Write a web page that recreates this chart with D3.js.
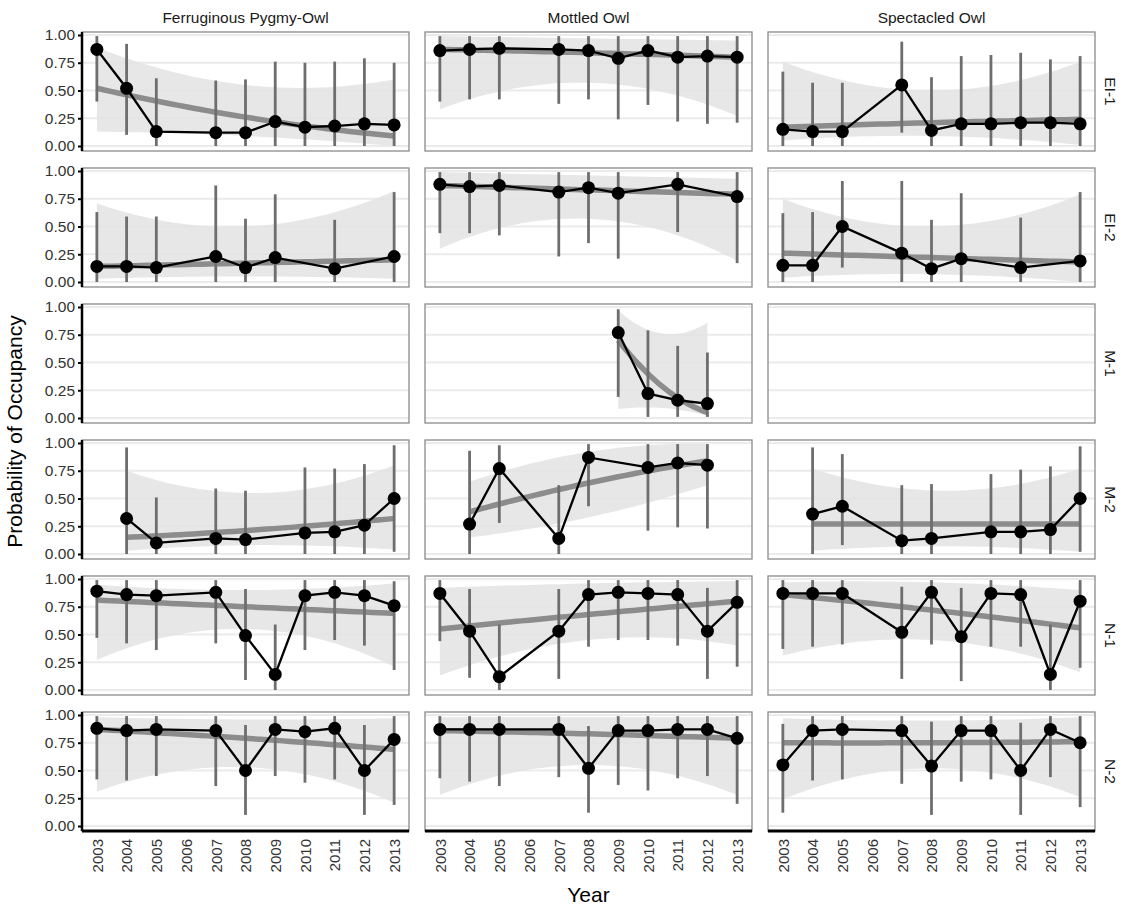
<!DOCTYPE html>
<html><head><meta charset="utf-8">
<script src="https://cdn.jsdelivr.net/npm/d3@7"></script>
<style>body{margin:0;background:#fff}text{font-family:"Liberation Sans",Arial,sans-serif}</style>
</head><body><div id="chart"></div>
<script>
// facets
const species = ['Ferruginous Pygmy-Owl', 'Mottled Owl', 'Spectacled Owl'];
const sites = ['EI-1', 'EI-2', 'M-1', 'M-2', 'N-1', 'N-2'];
const yearTicks = [2003, 2004, 2005, 2006, 2007, 2008, 2009, 2010, 2011, 2012, 2013];
const yTicks = [0, 0.25, 0.5, 0.75, 1];

const yrsA = [2003, 2004, 2005, 2007, 2008, 2009, 2010, 2011, 2012, 2013];
const yrsB = [2003, 2004, 2005, 2007, 2008, 2009, 2011, 2013];
const yrsM1 = [2009, 2010, 2011, 2012];
const yrsM2a = [2004, 2005, 2007, 2008, 2010, 2011, 2012, 2013];
const yrsM2b = [2004, 2005, 2007, 2008, 2010, 2011, 2012];
const hi99a = [0.99, 0.99, 0.99, 0.99, 0.99, 0.99, 0.99, 0.99, 0.99, 0.99];

// each panel: years, estimate, lower, upper, trend (start/mid/end), band low/high (start/mid/end)
const panels = {
  'EI-1|Ferruginous Pygmy-Owl': {years: yrsA, p: [.87,.52,.13,.12,.12,.22,.17,.18,.20,.19], lo: [.40,.10,0,0,0,0,0,0,0,0], hi: [.99,.92,.61,.59,.60,.76,.75,.76,.79,.75], trend: [.52,.26,.09], bandLo: [.13,.09,0], bandHi: [.89,.55,.60]},
  'EI-1|Mottled Owl': {years: yrsA, p: [.86,.87,.88,.87,.86,.79,.86,.80,.81,.80], lo: [.40,.42,.42,.38,.42,.24,.37,.22,.20,.21], hi: hi99a, trend: [.87,.84,.80], bandLo: [.33,.57,.27], bandHi: [.99,.97,.95]},
  'EI-1|Spectacled Owl': {years: yrsA, p: [.15,.13,.13,.55,.14,.20,.20,.21,.21,.20], lo: [0,0,0,.12,0,0,0,0,0,0], hi: [.67,.57,.57,.94,.62,.81,.82,.84,.78,.81], trend: [.17,.21,.24], bandLo: [.05,.09,.01], bandHi: [.76,.50,.76]},
  'EI-2|Ferruginous Pygmy-Owl': {years: yrsB, p: [.14,.14,.13,.23,.13,.22,.12,.23], lo: [0,0,0,0,0,0,0,0], hi: [.63,.59,.59,.87,.57,.79,.56,.81], trend: [.14,.17,.20], bandLo: [.03,.05,.03], bandHi: [.71,.50,.82]},
  'EI-2|Mottled Owl': {years: yrsB, p: [.88,.86,.87,.81,.85,.80,.88,.77], lo: [.44,.44,.42,.23,.35,.21,.45,.17], hi: [.99,.99,.99,.99,.99,.99,.99,.99], trend: [.87,.83,.79], bandLo: [.30,.57,.19], bandHi: [.99,.96,.93]},
  'EI-2|Spectacled Owl': {years: yrsB, p: [.15,.15,.50,.26,.12,.21,.13,.19], lo: [0,0,.13,0,0,0,0,0], hi: [.62,.63,.91,.91,.56,.80,.58,.81], trend: [.26,.22,.18], bandLo: [.04,.07,0], bandHi: [.75,.50,.79]},
  'M-1|Mottled Owl': {years: yrsM1, p: [.77,.22,.16,.13], lo: [.19,.01,.01,.01], hi: [.98,.79,.65,.59], trend: [.70,.28,.05], bandLo: [.08,.09,.02], bandHi: [.97,.76,.86]},
  'M-2|Ferruginous Pygmy-Owl': {years: yrsM2a, p: [.32,.10,.14,.13,.19,.20,.26,.50], lo: [0,0,0,0,0,0,0,.02], hi: [.96,.51,.59,.57,.78,.77,.81,.98], trend: [.15,.22,.32], bandLo: [.03,.08,.04], bandHi: [.75,.55,.80]},
  'M-2|Mottled Owl': {years: yrsM2b, p: [.27,.77,.14,.87,.78,.82,.80], lo: [0,.28,0,.43,.21,.24,.23], hi: [.93,.98,.62,.99,.99,.99,.99], trend: [.38,.64,.84], bandLo: [.15,.33,.62], bandHi: [.65,.92,.99]},
  'M-2|Spectacled Owl': {years: yrsM2a, p: [.36,.43,.12,.14,.20,.20,.22,.50], lo: [0,.08,0,0,0,0,0,.02], hi: [.96,.90,.62,.63,.72,.76,.79,.97], trend: [.27,.27,.27], bandLo: [.03,.07,.02], bandHi: [.77,.57,.77]},
  'N-1|Ferruginous Pygmy-Owl': {years: yrsA, p: [.89,.86,.85,.88,.49,.14,.85,.88,.85,.76], lo: [.47,.42,.36,.42,.09,0,.36,.45,.40,.18], hi: [.99,.99,.99,.99,.91,.59,.99,.99,.99,.98], trend: [.81,.75,.69], bandLo: [.27,.55,.21], bandHi: [.95,.90,.96]},
  'N-1|Mottled Owl': {years: yrsA, p: [.87,.53,.12,.53,.86,.88,.87,.86,.53,.79], lo: [.44,.11,0,.10,.39,.45,.45,.40,.10,.21], hi: [.99,.91,.59,.91,.99,.99,.99,.99,.92,.99], trend: [.55,.68,.80], bandLo: [.13,.45,.40], bandHi: [.92,.96,.98]},
  'N-1|Spectacled Owl': {years: yrsA, p: [.87,.87,.87,.52,.88,.48,.87,.86,.14,.80], lo: [.37,.39,.41,.10,.41,.08,.39,.39,0,.20], hi: [.99,.99,.99,.93,.99,.92,.99,.99,.59,.99], trend: [.86,.72,.56], bandLo: [.31,.45,.16], bandHi: [.97,.97,.90]},
  'N-2|Ferruginous Pygmy-Owl': {years: yrsA, p: [.88,.86,.87,.86,.50,.87,.85,.88,.50,.78], lo: [.42,.41,.45,.36,.10,.45,.39,.42,.10,.19], hi: [.99,.99,.99,.99,.91,.99,.99,.99,.91,.99], trend: [.87,.79,.69], bandLo: [.31,.53,.21], bandHi: [.98,.96,.97]},
  'N-2|Mottled Owl': {years: yrsA, p: [.87,.87,.87,.87,.52,.86,.86,.87,.87,.79], lo: [.43,.40,.36,.44,.12,.37,.32,.43,.45,.20], hi: [.99,.99,.99,.99,.90,.99,.99,.99,.99,.99], trend: [.86,.83,.79], bandLo: [.28,.55,.28], bandHi: [.98,.98,.98]},
  'N-2|Spectacled Owl': {years: yrsA, p: [.55,.86,.87,.86,.54,.86,.86,.50,.87,.75], lo: [.12,.41,.42,.38,.10,.40,.42,.10,.44,.17], hi: [.92,.99,.99,.99,.94,.99,.99,.93,.99,.99], trend: [.75,.75,.76], bandLo: [.24,.52,.26], bandHi: [.97,.95,.98]}
};

const W = 1126, H = 910;
const colX = [82, 425, 768], panelW = 327;
const rowY = [32, 168, 304, 440, 576, 712], panelH = 119;

const svg = d3.select('#chart').append('svg').attr('width', W).attr('height', H);

const x = d3.scaleLinear().domain([2002.5, 2013.5]).range([0, panelW]);
const y = d3.scaleLinear().domain([-0.045, 1.027]).range([panelH, 0]);

// quadratic through the three knots (Lagrange)
function quad(knots, vals) {
  const [a, b, c] = knots;
  return t => vals[0] * (t - b) * (t - c) / ((a - b) * (a - c)) +
              vals[1] * (t - a) * (t - c) / ((b - a) * (b - c)) +
              vals[2] * (t - a) * (t - b) / ((c - a) * (c - b));
}

sites.forEach((site, r) => {
  species.forEach((sp, c) => {
    const g = svg.append('g').attr('transform', `translate(${colX[c]},${rowY[r]})`);
    g.selectAll('.grid').data(yTicks).enter().append('line')
      .attr('x1', 0).attr('x2', panelW)
      .attr('y1', d => y(d)).attr('y2', d => y(d))
      .attr('stroke', '#ebebeb').attr('stroke-width', 2.2);

    const d = panels[site + '|' + sp];
    if (d) {
      const y0 = d.years[0], y1 = d.years[d.years.length - 1];
      const knots = [y0, (y0 + y1) / 2, y1];
      const fine = d3.range(0, 41).map(i => y0 + (y1 - y0) * i / 40);
      const fLo = quad(knots, d.bandLo), fHi = quad(knots, d.bandHi), fT = quad(knots, d.trend);
      g.append('path').datum(fine)
        .attr('fill', '#e3e3e3').attr('opacity', 0.85)
        .attr('d', d3.area().x(t => x(t)).y0(t => y(Math.max(0, fLo(t)))).y1(t => y(Math.min(1, fHi(t)))));
      g.append('path').datum(fine)
        .attr('fill', 'none').attr('stroke', '#8c8c8c').attr('stroke-width', 5.5)
        .attr('d', d3.line().x(t => x(t)).y(t => y(fT(t))));
      g.selectAll('.err').data(d.years).enter().append('line')
        .attr('x1', t => x(t)).attr('x2', t => x(t))
        .attr('y1', (t, i) => y(d.lo[i])).attr('y2', (t, i) => y(d.hi[i]))
        .attr('stroke', '#6e6e6e').attr('stroke-width', 2.8);
      g.append('path').datum(d.years)
        .attr('fill', 'none').attr('stroke', '#000').attr('stroke-width', 2.3)
        .attr('d', d3.line().x(t => x(t)).y((t, i) => y(d.p[i])));
      g.selectAll('.pt').data(d.years).enter().append('circle')
        .attr('cx', t => x(t)).attr('cy', (t, i) => y(d.p[i]))
        .attr('r', 6.5).attr('fill', '#000');
    }
    g.append('rect').attr('width', panelW).attr('height', panelH)
      .attr('fill', 'none').attr('stroke', '#8a8a8a').attr('stroke-width', 1.3);

    if (c === 0) {
      const ya = g.append('g').call(d3.axisLeft(y).tickValues(yTicks).tickFormat(d3.format('.2f')).tickSize(4).tickSizeOuter(0));
      ya.select('.domain').attr('stroke', '#000').attr('stroke-width', 2.5).attr('d', `M0,0V${panelH}`);
      ya.selectAll('.tick line').attr('stroke', '#000').attr('stroke-width', 2);
      ya.selectAll('.tick text').attr('font-size', 15.5).attr('fill', '#333').attr('font-family', 'Liberation Sans, Arial');
    }
    if (r === sites.length - 1) {
      const xa = g.append('g').attr('transform', `translate(0,${panelH})`)
        .call(d3.axisBottom(x).tickValues(yearTicks).tickFormat(d3.format('d')).tickSize(0).tickSizeOuter(0));
      xa.select('.domain').attr('stroke', '#000').attr('stroke-width', 3).attr('d', `M0,0H${panelW}`);
      xa.selectAll('.tick text').attr('font-size', 15).attr('fill', '#333')
        .attr('font-family', 'Liberation Sans, Arial')
        .attr('transform', 'rotate(-90)').attr('text-anchor', 'end')
        .attr('x', -8).attr('y', 0).attr('dy', '0.35em');
    }
    if (r === 0) {
      svg.append('text').attr('x', colX[c] + panelW / 2).attr('y', 23)
        .attr('text-anchor', 'middle').attr('font-size', 15.5).attr('fill', '#1a1a1a').text(sp);
    }
    if (c === species.length - 1) {
      svg.append('text')
        .attr('transform', `translate(${colX[c] + panelW + 10},${rowY[r] + panelH / 2}) rotate(90)`)
        .attr('text-anchor', 'middle').attr('font-size', 15.5).attr('fill', '#1a1a1a').text(site);
    }
  });
});

svg.append('text').attr('transform', `translate(22,${(rowY[0] + rowY[5] + panelH) / 2}) rotate(-90)`)
  .attr('text-anchor', 'middle').attr('font-size', 21).attr('fill', '#000').text('Probability of Occupancy');
svg.append('text').attr('x', (colX[0] + colX[2] + panelW) / 2).attr('y', 902)
  .attr('text-anchor', 'middle').attr('font-size', 21).attr('fill', '#000').text('Year');
</script></body></html>
